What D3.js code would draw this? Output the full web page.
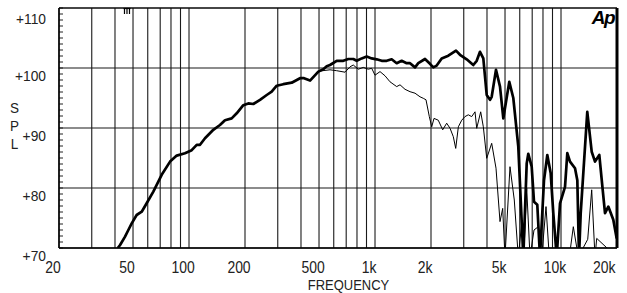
<!DOCTYPE html>
<html><head><meta charset="utf-8">
<script src="https://cdn.jsdelivr.net/npm/d3@7"></script>
<style>
body{margin:0;background:#fff;}
text{font-family:"Liberation Sans",Arial,sans-serif;fill:#222;}
</style></head>
<body><svg id="c" width="627" height="293"></svg>
<script>
// ---- data ----
const gridFreqs = [20,30,40,50,60,70,80,90,100,200,300,400,500,600,700,800,900,1000,2000,3000,4000,5000,6000,7000,8000,9000,10000,20000];
const xTickValues = [20,50,100,200,500,1000,2000,5000,10000,20000];
const xTickLabels = ["20","50","100","200","500","1k","2k","5k","10k","20k"];
const yTickValues = [70,80,90,100,110];
const yTickLabels = ["+70","+80","+90","+100","+110"];

// on-axis response (thick)
const onFreq = [41.4,42.6,45.3,47.2,49.2,52.3,55.7,59.2,64.3,71.3,79.1,85.9,95.1,103.4,110,114.6,121.9,135.1,146.7,156.1,169.6,180.5,195.9,208.3,221.6,240.8,261.7,278.3,296.2,321.3,356.6,395.2,415.3,447.4,495.9,527.2,550,572.8,622.4,675.6,718.6,764.4,797.2,848.2,902.2,959.8,1021,1086,1156,1229,1308,1391,1480,1543,1641,1709,1857,1975,2058,2146,2283,2478,2726,2864,3111,3376,3522,3668,3822,3986,4152,4240,4472,4699,4896,5272,5540,5893,6270,6540,6670,6956,7158,7456,7709,8102,8440,8802,9090,9482,9878,10508,10812,11178,11894,12238,12497,12762,13844,14622,15232,16064,16756,17242,17960,19104,19926];
const onSPL  = [70.0,70.5,71.9,73.0,74.1,75.5,76.05,77.45,79.4,82.2,84.4,85.4,85.8,86.3,87.2,87.2,88.3,89.7,90.5,91.3,91.6,92.45,93.8,94.1,94.0,94.7,95.5,96.05,97.05,97.3,97.55,98.3,98.3,97.9,99.4,99.8,100.3,100.5,101.2,101.2,101.5,101.5,101.2,101.6,101.9,101.6,101.45,101.2,101.2,101.45,100.8,101.2,100.8,100.8,100.1,100.8,101.5,100.7,100.1,100.4,101.6,102.05,102.9,102.2,101.45,100.5,101.2,102.7,101.6,95.5,94.7,95.2,99.7,96.9,91.6,97.7,95.0,86.9,68.5,84.1,85.7,83.55,77.7,77.2,68.5,81.3,85.5,82.45,75.8,68.5,77.45,80.2,85.8,84.4,83.3,81.3,68.5,75.8,92.7,86.05,84.4,85.5,79.7,75.8,76.9,74.7,71.6];

// off-axis response (thin)
const offFreq = [41.4,42.6,45.3,47.2,49.2,52.3,55.7,59.2,64.3,71.3,79.1,85.9,95.1,103.4,110,114.6,121.9,135.1,146.7,156.1,169.6,180.5,195.9,208.3,221.6,240.8,261.7,278.3,296.2,321.3,356.6,395.2,415.3,447.4,506,572.8,622,690,734,764,813,865,920,960,1000,1064,1132,1204,1308,1363,1450,1543,1641,1746,1818,1880,1959,2018,2076,2188,2312,2429,2532,2636,2716,2806,2926,3046,3173,3310,3449,3522,3700,3822,3986,4240,4472,4699,4858,4998,5318,5608,5893,6146,6300,6540,6814,7158,7550,7877,8305,8650,11078,11646,12390,13920,14622,15232,15558,19926];
const offSPL  = [70.0,70.5,71.9,73.0,74.1,75.5,76.05,77.45,79.4,82.2,84.4,85.4,85.8,86.3,87.2,87.2,88.3,89.7,90.5,91.3,91.6,92.45,93.8,94.1,94.0,94.7,95.5,96.05,97.05,97.3,97.55,98.3,98.3,97.9,99.5,99.7,99.55,99.3,100.2,100.5,99.8,100.1,99.8,99.95,98.8,99.4,98.7,97.7,96.9,97.2,96.45,96.05,95.8,95.2,94.95,94.7,91.9,90.2,91.6,91.3,89.7,90.8,89.95,88.55,86.6,90.2,91.3,91.9,92.2,91.9,92.7,89.95,92.7,90.2,84.95,87.45,83.3,74.4,76.6,68.5,83.55,78.0,68.5,74.1,68.5,79.95,68.5,73.0,73.55,68.5,76.9,68.5,68.5,73.55,68.5,71.45,79.7,68.5,71.6,68.5,60];

const markerFreq = 46.4;

// ---- layout ----
const L = 59, R = 617, T = 8, B = 248;
const svg = d3.select("#c");
const x = d3.scaleLog().domain([20,20000]).range([L,R]);
const y = d3.scaleLinear().domain([70,110]).range([B,T]);

function txt(px, py, s, size, anchor, sx){
  return svg.append("text")
    .attr("transform",`translate(${px},${py}) scale(${sx},1)`)
    .attr("text-anchor",anchor).attr("font-size",size).text(s);
}

svg.append("defs").append("clipPath").attr("id","clip")
  .append("rect").attr("x",L).attr("y",T).attr("width",R-L).attr("height",B-T);

// vertical grid
svg.append("g").selectAll("line").data(gridFreqs).join("line")
  .attr("x1",d=>x(d)).attr("x2",d=>x(d)).attr("y1",T).attr("y2",B)
  .attr("stroke","#1a1a1a").attr("stroke-width",1.1);
// horizontal grid
svg.append("g").selectAll("line").data(yTickValues).join("line")
  .attr("x1",L).attr("x2",R).attr("y1",d=>y(d)).attr("y2",d=>y(d))
  .attr("stroke","#1a1a1a").attr("stroke-width",1.1);

// minor ticks on left axis
svg.append("g").selectAll("line").data(d3.range(70,111,1)).join("line")
  .attr("x1",L).attr("x2",L+4).attr("y1",d=>y(d)).attr("y2",d=>y(d))
  .attr("stroke","#222").attr("stroke-width",1);

// frame
svg.append("line").attr("x1",L).attr("x2",L).attr("y1",T).attr("y2",B).attr("stroke","#000").attr("stroke-width",1.5);
svg.append("line").attr("x1",L).attr("x2",R).attr("y1",B).attr("y2",B).attr("stroke","#000").attr("stroke-width",1.5);
svg.append("line").attr("x1",L).attr("x2",R).attr("y1",T).attr("y2",T).attr("stroke","#000").attr("stroke-width",1.2);
svg.append("line").attr("x1",R).attr("x2",R).attr("y1",T).attr("y2",B).attr("stroke","#000").attr("stroke-width",3);

// curves
const line = d3.line().x(d=>x(d[0])).y(d=>y(d[1]));
const gC = svg.append("g").attr("clip-path","url(#clip)");
gC.append("path").datum(d3.zip(offFreq,offSPL)).attr("d",line)
  .attr("fill","none").attr("stroke","#000").attr("stroke-width",1).attr("stroke-linejoin","round");
gC.append("path").datum(d3.zip(onFreq,onSPL)).attr("d",line)
  .attr("fill","none").attr("stroke","#000").attr("stroke-width",2.7).attr("stroke-linejoin","round");

// y labels
yTickValues.forEach((d,i)=>txt(46, Math.max(y(d)+12.5,24), yTickLabels[i], 15, "end", 0.92));
// x labels
xTickValues.forEach((d,i)=>{
  if (d===20000) txt(x(d)-1.5, 272.5, xTickLabels[i], 16, "end", 0.87);
  else txt(x(d)-6, 272.5, xTickLabels[i], 16, "middle", 0.87);
});
txt(348.5, 289.6, "FREQUENCY", 15, "middle", 0.864);

// SPL stacked
["S","P","L"].forEach((c,i)=> txt(14.5, 113+i*18, c, 15, "middle", 0.9));

// Ap logo
svg.append("text").attr("x",614).attr("y",24).attr("text-anchor","end")
  .attr("font-weight","bold").attr("font-style","italic").attr("font-size",19)
  .attr("letter-spacing",-1.5).style("fill","#000").text("Ap");

// small marker at top
const mx = x(markerFreq);
const mk = svg.append("g").attr("stroke","#000").attr("stroke-width",1.2);
mk.append("line").attr("x1",mx-3.5).attr("x2",mx+3.5).attr("y1",T+0.5).attr("y2",T+0.5);
[-2.5,0,2.5].forEach(o=> mk.append("line").attr("x1",mx+o).attr("x2",mx+o).attr("y1",T).attr("y2",T+6));
</script></body></html>
